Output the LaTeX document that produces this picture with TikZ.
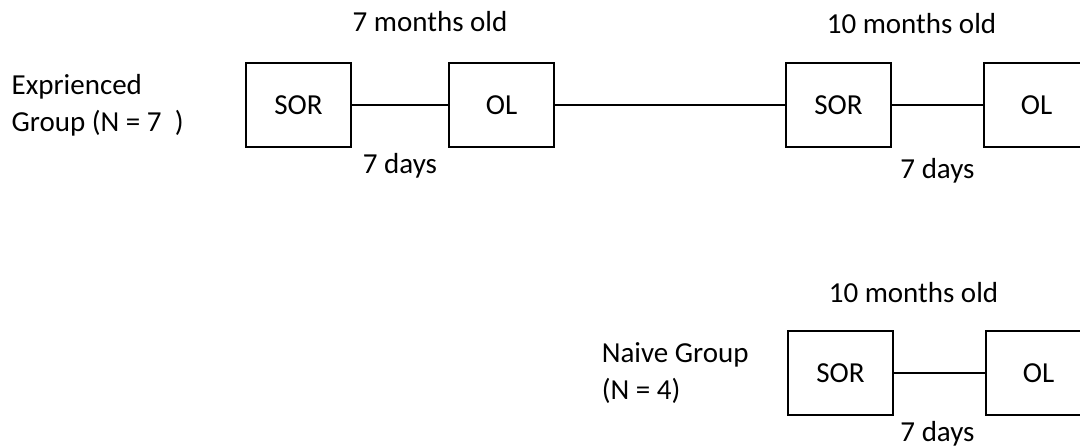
\documentclass[tikz,border=0pt]{standalone}
\usepackage{fontspec}
\setmainfont{Carlito}
\usetikzlibrary{positioning}

\begin{document}
\begin{tikzpicture}[
  node distance=48pt,
  testbox/.style={draw, line width=1pt, minimum width=52.5pt, minimum height=42pt, inner sep=0pt, font=\fontsize{14.5}{18.5}\selectfont},
  agelbl/.style={inner sep=0pt, font=\fontsize{14.5}{18.5}\selectfont},
  daylbl/.style={inner sep=0pt, font=\fontsize{14.5}{18.5}\selectfont},
  grplbl/.style={inner sep=0pt, align=left, font=\fontsize{14.5}{18.5}\selectfont},
  link/.style={line width=1pt}
]

\useasboundingbox (0,0) rectangle (540pt,-223pt);

% Experienced group
\node[testbox] (sor1) at (149.25pt,-52.5pt) {SOR};
\node[testbox, right=48pt of sor1] (ol1) {OL};
\node[testbox, right=115pt of ol1] (sor2) {SOR};
\node[testbox, right=45.5pt of sor2] (ol2) {OL};

% Naive group
\node[testbox, below=91pt of sor2, xshift=1pt] (sor3) {SOR};
\node[testbox, right=45.5pt of sor3] (ol3) {OL};

% Connectors
\draw[link] (sor1) -- node[daylbl, below=23.5pt] {7 days} (ol1);
\draw[link] (ol1) -- (sor2);
\draw[link] (sor2) -- node[daylbl, below=26pt] {7 days} (ol2);
\draw[link] (sor3) -- node[daylbl, below=23.5pt, xshift=-1pt] {7 days} (ol3);

% Ages
\node[agelbl, above=15pt of sor1, xshift=65.75pt] (age1) {7 months old};
\node[agelbl, above=14pt of sor2, xshift=36.5pt] (age2) {10 months old};
\node[agelbl, above=13.5pt of sor3, xshift=36.5pt] (age3) {10 months old};

% Groups
\node[grplbl, left=30.5pt of sor1] (grp1) {Exprienced\\Group (N = 7\ \ )};
\node[grplbl, left=19pt of sor3] (grp2) {Naive Group\\(N = 4)};

\end{tikzpicture}
\end{document}
